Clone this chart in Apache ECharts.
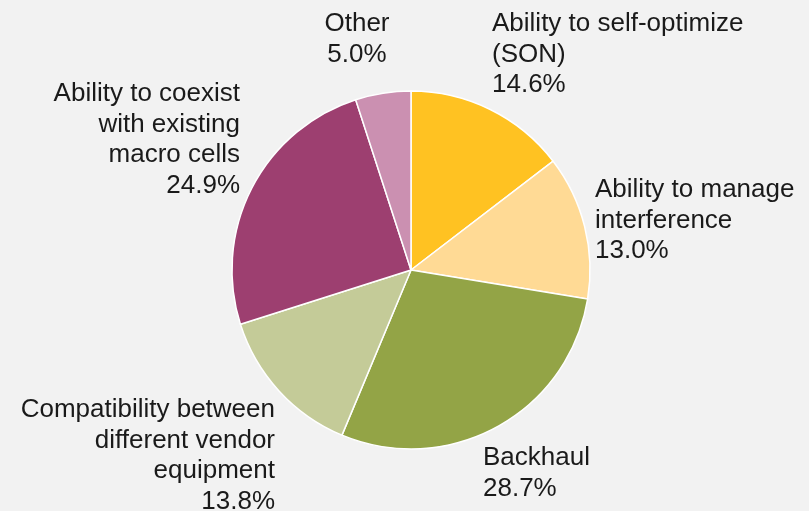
<!DOCTYPE html>
<html>
<head>
<meta charset="utf-8">
<script src="https://cdn.jsdelivr.net/npm/echarts@6/dist/echarts.min.js"></script>
<style>
  html, body { margin: 0; padding: 0; background: #F2F2F2; }
  #chart { width: 809px; height: 511px; }
</style>
</head>
<body>
<div id="chart"></div>
<script>
// Small-cell deployment challenges: share of responses
const categories = [
  'Ability to self-optimize\n(SON)',
  'Ability to manage\ninterference',
  'Backhaul',
  'Compatibility between\ndifferent vendor\nequipment',
  'Ability to coexist\nwith existing\nmacro cells',
  'Other'
];
const shares = [14.6, 13.0, 28.7, 13.8, 24.9, 5.0];
const sliceColors = ['#FFC222', '#FFDA95', '#93A446', '#C4CB98', '#9D3F70', '#CB90B1'];

// Label anchor points (top edge of the text block) and alignment per slice
const labelSpots = [
  { x: 492, y: 9, align: 'left' },
  { x: 595, y: 175, align: 'left' },
  { x: 483, y: 443, align: 'left' },
  { x: 275, y: 395, align: 'right' },
  { x: 240, y: 79, align: 'right' },
  { x: 357, y: 9, align: 'center' }
];

const chart = echarts.init(document.getElementById('chart'), null, { renderer: 'canvas' });

chart.setOption({
  backgroundColor: '#F2F2F2',
  animation: false,
  series: [{
    type: 'pie',
    center: [411, 270],
    radius: 179,
    startAngle: 90,
    clockwise: true,
    data: categories.map((name, i) => ({
      name: name,
      value: shares[i],
      itemStyle: { color: sliceColors[i] }
    })),
    itemStyle: { borderColor: '#FFFFFF', borderWidth: 1.5 },
    label: {
      show: true,
      position: 'outside',
      alignTo: 'none',
      overflow: 'none',
      bleedMargin: 0,
      formatter: p => p.name + '\n' + p.value.toFixed(1) + '%',
      color: '#1A1A1A',
      fontFamily: 'Liberation Sans, Arial, sans-serif',
      fontSize: 26,
      lineHeight: 30.5
    },
    labelLine: { show: false },
    labelLayout: params => {
      const s = labelSpots[params.dataIndex];
      return { x: s.x, y: s.y, align: s.align, verticalAlign: 'top', hideOverlap: false, moveOverlap: null };
    },
    emphasis: { disabled: true }
  }]
});
</script>
</body>
</html>
